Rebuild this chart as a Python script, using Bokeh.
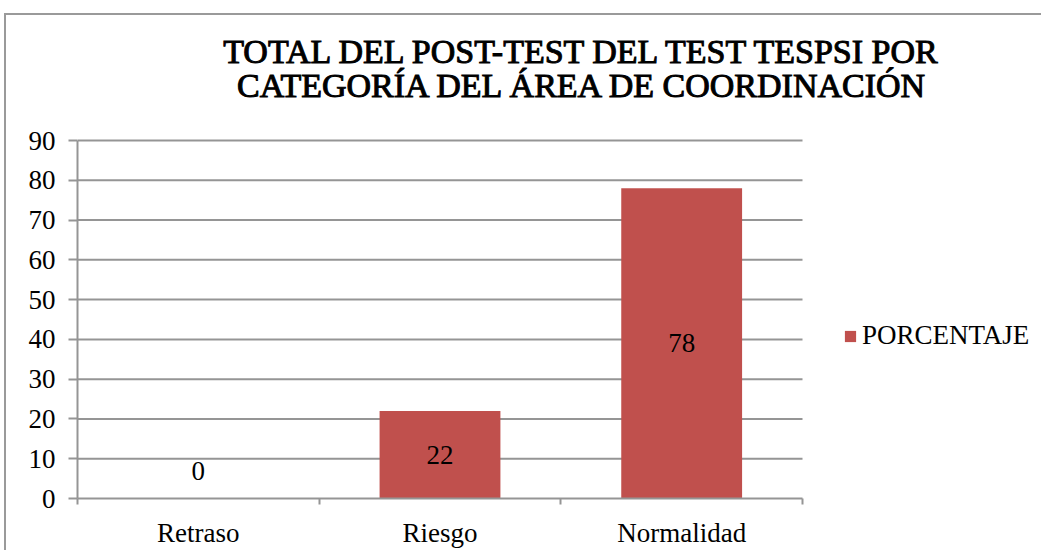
from bokeh.plotting import figure
from bokeh.models import (Range1d, FixedTicker, Legend, LegendItem,
                          ColumnDataSource, InlineStyleSheet)
from bokeh.core.properties import value
from bokeh.embed import file_html
from bokeh.resources import INLINE

categories = ["Retraso", "Riesgo", "Normalidad"]
porcentaje = [0, 22, 78]
series_name = "PORCENTAJE"
title_lines = ["TOTAL DEL POST-TEST DEL TEST TESPSI POR",
               "CATEGORÍA DEL ÁREA DE COORDINACIÓN"]
y_ticks = [0, 10, 20, 30, 40, 50, 60, 70, 80, 90]

SERIF = "Liberation Serif"
GREY = "#959595"
BAR = "#C0504D"

n = len(categories)
y_max = y_ticks[-1]
xs = [i + 0.5 for i in range(n)]
src = ColumnDataSource(dict(
    x=xs, top=porcentaje,
    ly=[v / 2 for v in porcentaje],
    lyoff=[-28 if v == 0 else 0 for v in porcentaje],
    txt=[str(v) for v in porcentaje],
))
grid_src = ColumnDataSource(dict(y=y_ticks[1:], x0=[0] * (len(y_ticks) - 1),
                                 x1=[n] * (len(y_ticks) - 1)))

# plotting area spans the whole canvas right of / above the axes so that the
# title and legend can sit in it; axes are bounded to the data region
W, H = 1041, 550
LEFT, BOTTOM = 77, 52
DATA_W, DATA_H = 725, 358
x_end = n * (W - LEFT) / DATA_W
y_end = y_max * (H - BOTTOM) / DATA_H

p = figure(width=W, height=H, output_backend="svg", toolbar_location=None,
           x_range=Range1d(0, x_end), y_range=Range1d(0, y_end))
p.min_border = 0
p.min_border_left = LEFT
p.min_border_bottom = BOTTOM
p.outline_line_color = None
p.background_fill_color = "white"
p.border_fill_color = "white"
p.xgrid.grid_line_color = None
p.ygrid.grid_line_color = None

p.segment(x0="x0", x1="x1", y0="y", y1="y", source=grid_src,
          line_color=GREY, line_width=2)

r = p.vbar(x="x", top="top", width=0.5, bottom=0, source=src,
           fill_color=BAR, line_color=None)

p.text(x="x", y="ly", text="txt", y_offset="lyoff", source=src,
       text_align="center", text_baseline="middle",
       text_font=value(SERIF), text_font_size="27px", text_color="black")

# axes
p.xaxis.bounds = (0, n)
p.xaxis.ticker = FixedTicker(ticks=xs, minor_ticks=list(range(n + 1)))
p.xaxis.major_label_overrides = {x: c for x, c in zip(xs, categories)}
p.xaxis.major_tick_out = 0
p.xaxis.major_tick_in = 0
p.xaxis.minor_tick_out = 6
p.xaxis.minor_tick_in = 0
p.xaxis.minor_tick_line_color = GREY
p.xaxis.minor_tick_line_width = 2
p.xaxis.major_label_standoff = 13
p.yaxis.bounds = (0, y_max)
p.yaxis.ticker = FixedTicker(ticks=y_ticks, minor_ticks=[])
p.yaxis.major_tick_out = 9
p.yaxis.major_tick_in = 0
p.yaxis.major_label_standoff = 13
for ax in (p.xaxis, p.yaxis):
    ax.axis_line_color = GREY
    ax.axis_line_width = 2
    ax.major_tick_line_color = GREY
    ax.major_tick_line_width = 2
    ax.major_label_text_font = SERIF
    ax.major_label_text_font_size = "27px"
    ax.major_label_text_color = "black"

# title, two centred lines above the data region (outlined regular serif
# stands in for the bold serif face)
p.text(x=[2.094, 2.094], y=[112.5, 103.95], text=title_lines,
       text_align="center", text_baseline="middle",
       text_font=value(SERIF), text_font_size="34px",
       text_font_style="normal", text_color="black",
       text_outline_color="black")

# legend
legend = Legend(items=[LegendItem(label=series_name, renderers=[r])],
                location=(766, 147), orientation="vertical",
                glyph_width=14, glyph_height=14, label_standoff=5,
                label_text_font=SERIF, label_text_font_size="27px",
                label_text_color="black",
                label_text_baseline="middle", label_height=14,
                padding=0, margin=0, spacing=0,
                border_line_color=None, background_fill_alpha=0)
p.add_layout(legend, "center")

# outer chart frame
p.stylesheets = [InlineStyleSheet(css=""":host { position: relative; }
:host::after { content: ""; position: absolute; left: 4px; top: 13px;
  width: 1100px; height: 700px; border: 2px solid #9a9a9a;
  pointer-events: none; box-sizing: border-box; }""")]

open("out.html", "w").write(file_html(p, INLINE))
